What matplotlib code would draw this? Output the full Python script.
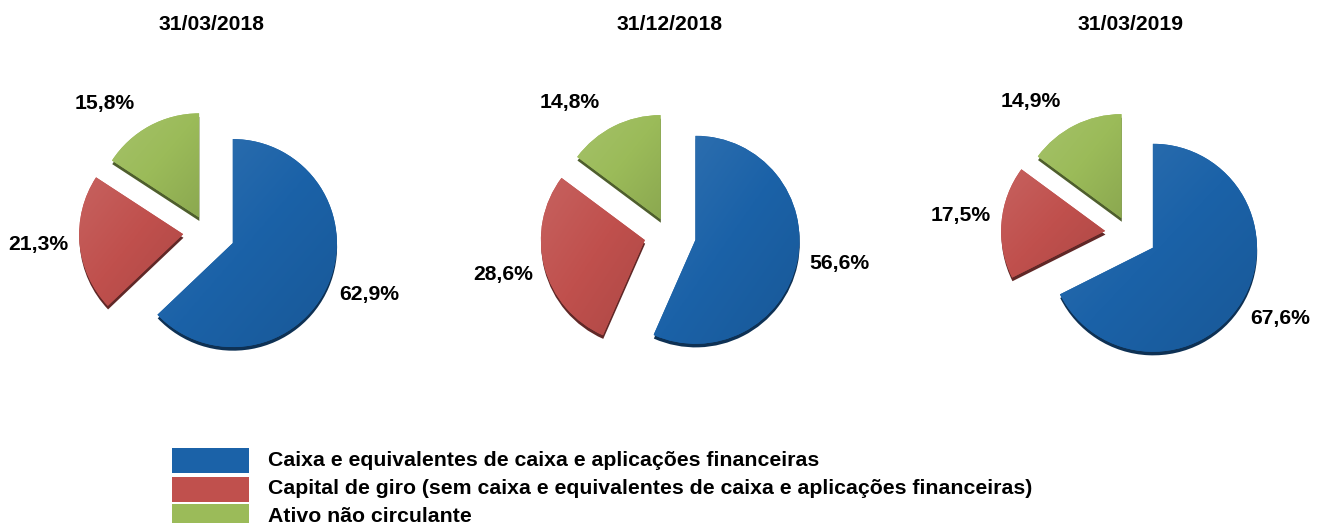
import numpy as np
import matplotlib
matplotlib.use("Agg")
import matplotlib.pyplot as plt
import matplotlib.patheffects as pe
from matplotlib.colors import LinearSegmentedColormap, to_rgb
from matplotlib.patches import Rectangle

plt.rcParams['font.family'] = ['Liberation Sans', 'DejaVu Sans']

# ---- data ----
dates = ["31/03/2018", "31/12/2018", "31/03/2019"]
categories = ["Caixa e equivalentes de caixa e aplicações financeiras",
              "Capital de giro (sem caixa e equivalentes de caixa e aplicações financeiras)",
              "Ativo não circulante"]
caixa = [62.9, 56.6, 67.6]
capital_giro = [21.3, 28.6, 17.5]
ativo_nc = [15.8, 14.8, 14.9]
colors = ["#1B62A8", "#C0504D", "#9BBB59"]

# ---- layout (pixels) ----
W, H = 1317, 523
centers_px = [(207, 232), (668, 234), (1129, 233)]
title_px = [(211, 25), (670, 25), (1131, 25)]
radius = 104
explode = [0.27, 0.23, 0.16]
label_dist = [1.67, 1.63, 1.58]
label_ang_nudge = [2, -1, 10]

fig = plt.figure(figsize=(W / 100, H / 100), dpi=100)
ax = fig.add_axes([0, 0, 1, 1])


def shade(c, f):
    r, g, b = to_rgb(c)
    if f >= 0:
        return (r + (1 - r) * f, g + (1 - g) * f, b + (1 - b) * f)
    return (r * (1 + f), g * (1 + f), b * (1 + f))


for i in range(3):
    vals = [caixa[i], capital_giro[i], ativo_nc[i]]
    cx, cy = centers_px[i][0], H - centers_px[i][1]
    wedges, _ = ax.pie(vals, colors=colors, startangle=90, counterclock=False,
                       explode=[e * radius for e in explode], radius=radius,
                       center=(cx, cy), frame=True, wedgeprops=dict(linewidth=0))
    for j, w in enumerate(wedges):
        dark = shade(colors[j], -0.5)
        w.set_path_effects([pe.SimplePatchShadow(offset=(0.2, -2.6), shadow_rgbFace=dark, alpha=1.0),
                            pe.Normal()])
        cmap = LinearSegmentedColormap.from_list(
            "g", [shade(colors[j], 0.10), colors[j], shade(colors[j], -0.10)])
        bb = w.get_path().get_extents(w.get_patch_transform())
        yy, xx = np.mgrid[0:1:64j, 0:1:64j]
        grad = (xx * 0.5 + yy * 0.5)
        im = ax.imshow(grad, cmap=cmap, extent=(bb.x0, bb.x1, bb.y0, bb.y1),
                       origin='upper', zorder=w.get_zorder() + 0.1, interpolation='bilinear')
        im.set_clip_path(w)
        mid = np.deg2rad((w.theta1 + w.theta2) / 2 + label_ang_nudge[j])
        d = label_dist[j] * radius
        ax.text(cx + d * np.cos(mid), cy + d * np.sin(mid),
                f"{vals[j]:.1f}%".replace('.', ','), ha='center', va='center',
                fontsize=15.2, fontweight='bold', color='black')
    ax.text(title_px[i][0], H - title_px[i][1], dates[i], ha='center', va='center',
            fontsize=15.2, fontweight='bold')

# ---- legend ----
leg_y = [460, 489, 516]
for j, lab in enumerate(categories):
    y = H - leg_y[j]
    ax.add_patch(Rectangle((172, y - 12.5), 77, 25, facecolor=colors[j], edgecolor='none'))
    ax.text(268, y, lab, ha='left', va='center', fontsize=15.3, fontweight='bold')

ax.set_xlim(0, W)
ax.set_ylim(0, H)
ax.set_aspect('equal')
ax.axis('off')

fig.savefig("out.png", dpi=100)
